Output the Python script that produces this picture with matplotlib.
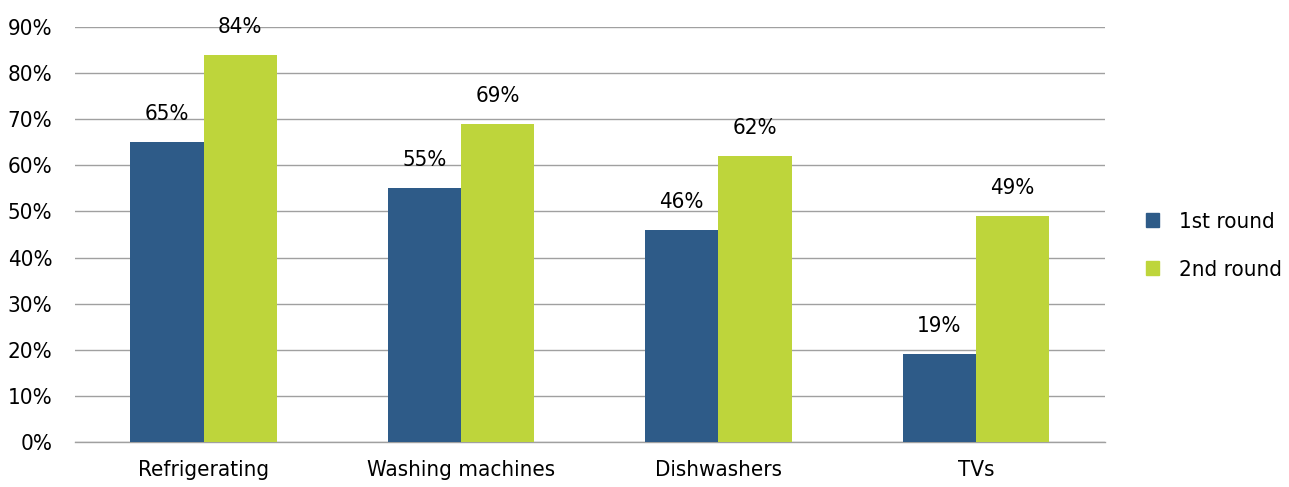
import numpy as np
import matplotlib.pyplot as plt
from matplotlib.patches import Patch

plt.rcParams['font.family'] = ['DejaVu Sans']
plt.rcParams['font.stretch'] = 'condensed'
plt.rcParams['font.size'] = 16

categories = ['Refrigerating', 'Washing machines', 'Dishwashers', 'TVs']
first_round = [65, 55, 46, 19]
second_round = [84, 69, 62, 49]
series_names = ['1st round', '2nd round']
colors = ['#2E5B88', '#BED53B']

fig = plt.figure(figsize=(12.89, 4.87), dpi=100)
ax = fig.add_axes([0.058, 0.0924, 0.799, 0.8522])

x = np.arange(len(categories))
w = 0.285
b1 = ax.bar(x - w / 2, first_round, w, color=colors[0], zorder=3)
b2 = ax.bar(x + w / 2, second_round, w, color=colors[1], zorder=3)

for bars, vals in [(b1, first_round), (b2, second_round)]:
    for r, v in zip(bars, vals):
        ax.text(r.get_x() + r.get_width() / 2, v + 3.9, f'{v}%',
                ha='center', va='bottom', fontsize=16)

ax.set_xlim(-0.5, 3.5)
ax.set_ylim(0, 90)
ax.set_yticks(range(0, 91, 10))
ax.set_yticklabels([f'{t}%' for t in range(0, 91, 10)])
ax.set_xticks(x)
ax.set_xticklabels(categories)
ax.tick_params(length=0)
ax.tick_params(axis='y', pad=16)
ax.tick_params(axis='x', pad=13)
ax.yaxis.grid(True, color='#A0A0A0', linewidth=1, zorder=0)
for s in ax.spines.values():
    s.set_visible(False)
ax.spines['bottom'].set_visible(True)
ax.spines['bottom'].set_color('#A0A0A0')
ax.spines['bottom'].set_linewidth(1)

handles = [Patch(color=c, label=n) for c, n in zip(colors, series_names)]
fig.legend(handles=handles, loc='center left', bbox_to_anchor=(0.889, 0.495),
           frameon=False, handlelength=0.6, handleheight=0.6,
           labelspacing=1.25, handletextpad=0.9, fontsize=16,
           borderaxespad=0, borderpad=0)

fig.savefig('out.png', dpi=100)
